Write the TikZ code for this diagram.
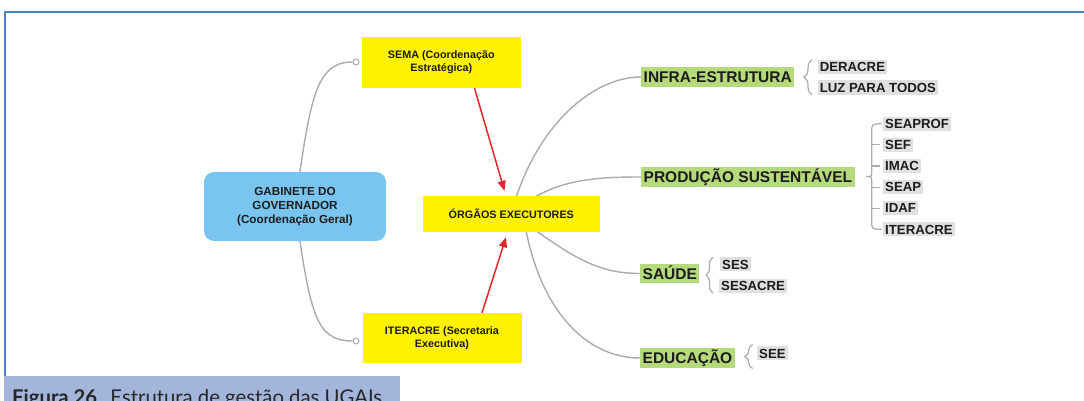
\documentclass[tikz,border=0pt]{standalone}
\usepackage{fontspec}
\setmainfont{Liberation Sans}
\newfontfamily\lato{Lato}
\usetikzlibrary{arrows.meta,calc,decorations.pathreplacing,backgrounds}
\definecolor{frameblue}{HTML}{4F81BD}
\definecolor{capblue}{HTML}{A3B5DB}
\definecolor{ylw}{HTML}{FFF200}
\definecolor{skyb}{HTML}{79C5EF}
\definecolor{grn}{HTML}{B5DA7C}
\definecolor{lgray}{HTML}{E0E0E0}
\definecolor{cgray}{HTML}{ABABAB}
\definecolor{arrred}{HTML}{E3262A}
\definecolor{ink}{HTML}{1C1C1C}
\definecolor{capink}{HTML}{262626}
\begin{document}
\begin{tikzpicture}[x=1pt,y=-1pt,
  ybox/.style={fill=ylw, text=ink, font=\bfseries\fontsize{10.8}{13}\selectfont, align=center, inner sep=0},
  bbox/.style={fill=skyb, text=ink, rounded corners=10pt, font=\bfseries\fontsize{11.7}{13.7}\selectfont, align=center, inner sep=0, minimum width=182pt, minimum height=69pt},
  gbox/.style={fill=grn, text=ink, anchor=west, font=\bfseries\fontsize{15.5}{18}\selectfont, inner xsep=2.5pt, inner ysep=4.4pt, text height=11.1pt, text depth=0pt},
  item/.style={fill=lgray, text=ink, anchor=west, font=\bfseries\fontsize{13.2}{15}\selectfont, inner xsep=2pt, inner ysep=2.3pt, text height=9.45pt, text depth=0pt},
  conn/.style={draw=cgray, line width=1.4pt},
  brk/.style={draw=cgray, line width=1.2pt},
  brc/.style={brk, decorate, decoration={brace, amplitude=#1}},
  redarr/.style={draw=arrred, line width=1.5pt, -{Triangle[length=10pt,width=8pt]}},
  knob/.style={circle, draw=cgray, fill=white, line width=1pt, minimum size=6pt, inner sep=0pt}
]
\useasboundingbox (0,0) rectangle (1084,401);
\clip (0,0) rectangle (1084,401);

% frame and caption
\draw[frameblue, line width=2.2pt] (1090,12) -- (5,12) -- (5,376);
\fill[capblue] (4,376) rectangle (400,405);
\node[anchor=base west, inner sep=0pt, text=capink, font=\lato\fontsize{20.3}{24}\selectfont] (cap) at (12,404) {\textbf{Figura 26.}\hspace{1.5pt} Estrutura de gestão das UGAIs};

% main nodes
\node[ybox, minimum width=159.4pt, minimum height=51pt] (sema) at (441.3,62.5) {SEMA (Coordenação\\Estratégica)};
\node[bbox] (gab) at (295,206.5) {GABINETE DO\\GOVERNADOR\\(Coordenação Geral)};
\node[ybox, minimum width=177.3pt, minimum height=35.7pt] (org) at (511.3,213.9) {ÓRGÃOS EXECUTORES};
\node[ybox, minimum width=159pt, minimum height=50pt] (iter) at (442,338) {ITERACRE (Secretaria\\Executiva)};

\node[knob] (k1) at (356,62) {};
\node[knob] (k2) at (356,341) {};

% groups
\node[gbox] (infra) at (641,77) {INFRA-ESTRUTURA};
\node[gbox] (prod) at (641,177) {PRODUÇÃO SUSTENTÁVEL};
\node[gbox] (saude) at (640,273.5) {SAÚDE};
\node[gbox] (edu) at (640,358) {EDUCAÇÃO};

% items
\node[item] (deracre) at (817.6,67) {DERACRE};
\node[item] (luz) at (817.6,87.5) {LUZ PARA TODOS};
\node[item] (seaprof) at (883,123.8) {SEAPROF};
\node[item] (sef) at (883,144.9) {SEF};
\node[item] (imac) at (883,166) {IMAC};
\node[item] (seap) at (883,187.1) {SEAP};
\node[item] (idaf) at (883,208.2) {IDAF};
\node[item] (itercr) at (883,229.3) {ITERACRE};
\node[item] (ses) at (720,264.4) {SES};
\node[item] (sesacre) at (719,285.8) {SESACRE};
\node[item] (see) at (757,353.3) {SEE};

% curves behind the boxes
\begin{pgfonlayer}{background}
\draw[conn] (gab.center) .. controls (310,100) and (315,62) .. (k1.west);
\draw[conn] (gab.center) .. controls (310,313) and (315,341) .. (k2.west);
\draw[conn] (org.center) .. controls (533,130) and (590,77) .. (infra.west);
\draw[conn] (org.center) .. controls (550,180) and (590,177) .. (prod.west);
\draw[conn] (org.center) .. controls (565,250) and (590,273.5) .. (saude.west);
\draw[conn] ([xshift=12pt]org.center) .. controls (535,300) and (580,358) .. (edu.west);
\end{pgfonlayer}

% red arrows
\draw[redarr] ([xshift=33.2pt]sema.south) -- ([xshift=-6.8pt,yshift=5pt]org.north);
\draw[redarr] ([xshift=40pt]iter.north) -- ([xshift=-5.3pt,yshift=-5.3pt]org.south);

% braces
\draw[brc=8pt] ([xshift=-5.6pt]luz.south west) -- ([xshift=-5.6pt]luz.south west |- deracre.north);
\draw[brc=7pt] ([xshift=-6pt]sesacre.south west) -- ([xshift=-6pt]sesacre.south west |- ses.north);
\draw[brc=8pt] ([xshift=-4.3pt,yshift=-8pt]see.south west) -- ([xshift=-4.3pt,yshift=1.5pt]see.north west);

\coordinate (bt) at ([xshift=-11.3pt]seaprof.west);
\coordinate (bb) at ([xshift=-11.3pt]itercr.west);
\coordinate (bm) at ($(bt)!0.5!(bb)$);
\draw[brk] ([xshift=-1.5pt]seaprof.west) .. controls (bt) .. ([yshift=-9pt]bt) -- ([yshift=5pt]bm)
  .. controls (bm) .. ([xshift=-5.5pt]bm) .. controls (bm) .. ([yshift=-5pt]bm)
  -- ([yshift=9pt]bb) .. controls (bb) .. ([xshift=-1.5pt]itercr.west);
\foreach \n in {sef,imac,seap,idaf}
  \draw[brk] (bt |- \n.west) -- ([xshift=-3pt]\n.west);
\end{tikzpicture}
\end{document}
